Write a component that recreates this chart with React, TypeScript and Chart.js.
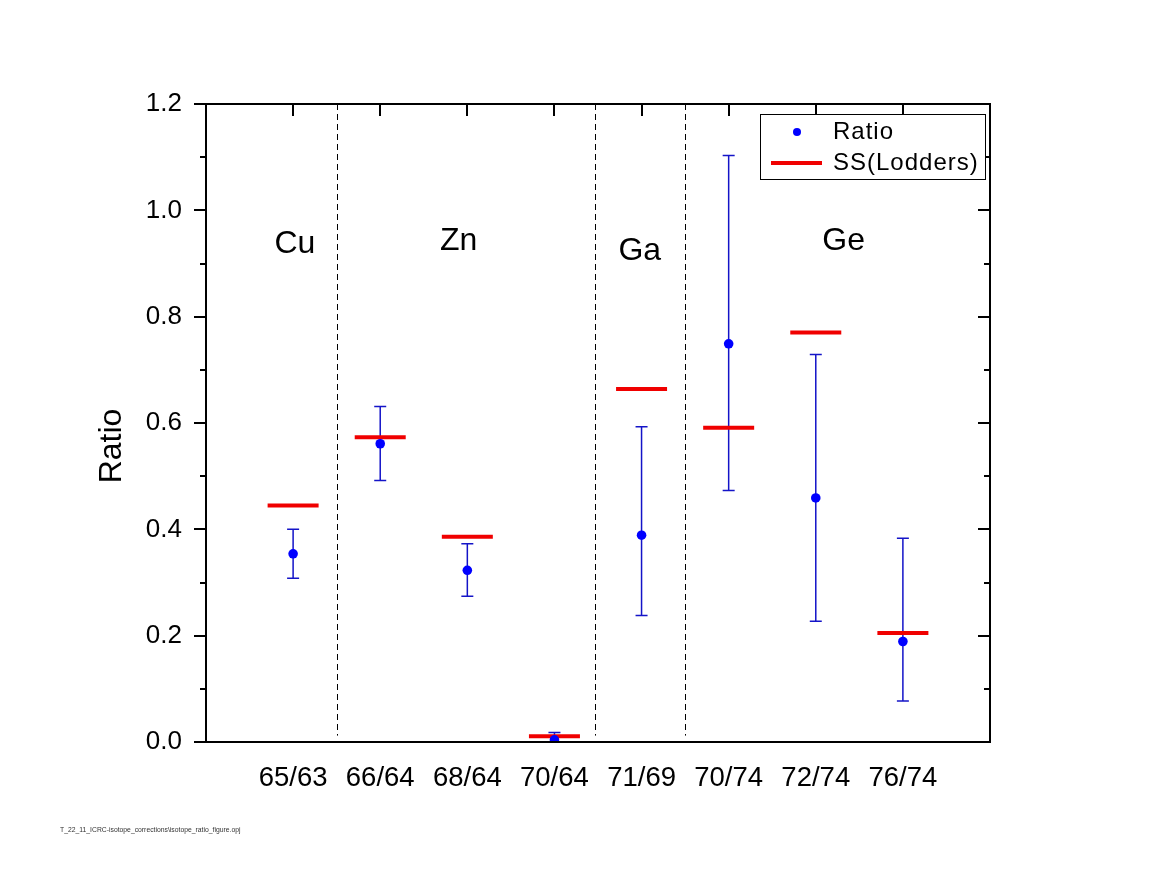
import { useEffect, useRef } from "react";
import { Chart, registerables } from "chart.js";

Chart.register(...registerables);

const FONT = "Arial, 'Liberation Sans', sans-serif";

// isotope pairs along the x axis (positions 1..8)
const categories = ["65/63", "66/64", "68/64", "70/64", "71/69", "70/74", "72/74", "76/74"];
// measured ratio with lower / upper error limits
const ratioValues = [0.354, 0.561, 0.323, 0.004, 0.389, 0.749, 0.459, 0.189];
const ratioLow = [0.308, 0.492, 0.274, 0.0, 0.238, 0.473, 0.227, 0.077];
const ratioHigh = [0.4, 0.631, 0.373, 0.018, 0.593, 1.103, 0.729, 0.383];
// solar system values (Lodders)
const lodders = [0.445, 0.573, 0.386, 0.011, 0.664, 0.591, 0.77, 0.205];
// element groups and the dashed lines between them
const groupNames = ["Cu", "Zn", "Ga", "Ge"];
const separators = [1.5, 4.47, 5.5];

// where the element names sit, in data units
const groupLabelX = [1.02, 2.9, 4.98, 7.32];
const groupLabelY = [0.936, 0.942, 0.923, 0.942];

const BLUE = "#0000ff";
const BAR_BLUE = "#1414c8";
const RED = "#f00000";

const decorPlugin = {
  id: "decor",
  beforeDatasetsDraw(chart: any) {
    const { ctx, chartArea, scales } = chart;
    const x = scales.x;
    const y = scales.y;
    ctx.save();
    // dashed separators
    ctx.strokeStyle = "#000";
    ctx.lineWidth = 1;
    ctx.setLineDash([6, 4]);
    separators.forEach((s) => {
      const px = Math.round(x.getPixelForValue(s)) + 0.5;
      ctx.beginPath();
      ctx.moveTo(px, chartArea.top);
      ctx.lineTo(px, y.getPixelForValue(0.012));
      ctx.stroke();
    });
    ctx.setLineDash([]);
    // error bars
    ctx.strokeStyle = BAR_BLUE;
    ctx.lineWidth = 1.5;
    categories.forEach((_, i) => {
      const px = x.getPixelForValue(i + 1);
      const top = y.getPixelForValue(ratioHigh[i]);
      const bot = Math.min(y.getPixelForValue(ratioLow[i]), chartArea.bottom);
      ctx.beginPath();
      ctx.moveTo(px, top);
      ctx.lineTo(px, bot);
      ctx.moveTo(px - 6, top);
      ctx.lineTo(px + 6, top);
      if (ratioLow[i] > 0) {
        ctx.moveTo(px - 6, bot);
        ctx.lineTo(px + 6, bot);
      }
      ctx.stroke();
    });
    ctx.restore();
  },
  afterDraw(chart: any) {
    const { ctx, chartArea, scales } = chart;
    const x = scales.x;
    const y = scales.y;
    const { left, right, top, bottom } = chartArea;
    ctx.save();
    // frame
    ctx.strokeStyle = "#000";
    ctx.lineWidth = 2;
    ctx.strokeRect(left, top, right - left, bottom - top);
    // y ticks: outward on the left, inward on the right
    y.ticks.forEach((t: any) => {
      const major = Math.round(t.value * 10) % 2 === 0;
      const len = major ? 12 : 6;
      const py = Math.round(y.getPixelForValue(t.value));
      ctx.beginPath();
      ctx.moveTo(left - len, py);
      ctx.lineTo(left, py);
      ctx.moveTo(right, py);
      ctx.lineTo(right - len, py);
      ctx.stroke();
    });
    // top ticks inward
    categories.forEach((_, i) => {
      const px = Math.round(x.getPixelForValue(i + 1));
      ctx.beginPath();
      ctx.moveTo(px, top);
      ctx.lineTo(px, top + 12);
      ctx.stroke();
    });
    // element names
    ctx.fillStyle = "#000";
    ctx.font = `32px ${FONT}`;
    ctx.textAlign = "center";
    ctx.textBaseline = "middle";
    groupNames.forEach((g, i) => {
      ctx.fillText(g, x.getPixelForValue(groupLabelX[i]), y.getPixelForValue(groupLabelY[i]));
    });
    // y title
    ctx.save();
    ctx.translate(112, (top + bottom) / 2 + 23);
    ctx.rotate(-Math.PI / 2);
    ctx.fillText("Ratio", 0, 0);
    ctx.restore();
    // legend
    const lw = 225;
    const lh = 65;
    const lx = right - lw - 5;
    const ly = top + 10;
    ctx.fillStyle = "#fff";
    ctx.fillRect(lx, ly, lw, lh);
    ctx.lineWidth = 1;
    ctx.strokeRect(lx + 0.5, ly + 0.5, lw, lh);
    ctx.fillStyle = BLUE;
    ctx.beginPath();
    ctx.arc(lx + 37, ly + 18, 4, 0, Math.PI * 2);
    ctx.fill();
    ctx.strokeStyle = RED;
    ctx.lineWidth = 4;
    ctx.beginPath();
    ctx.moveTo(lx + 11, ly + 49);
    ctx.lineTo(lx + 62, ly + 49);
    ctx.stroke();
    ctx.fillStyle = "#000";
    ctx.font = `24px ${FONT}`;
    ctx.textAlign = "left";
    (ctx as any).letterSpacing = "1px";
    const labels = chart.data.datasets.map((d: any) => d.label);
    ctx.fillText(labels[0], lx + 73, ly + 18);
    ctx.fillText(labels[1], lx + 73, ly + 49);
    (ctx as any).letterSpacing = "0px";
    // file path footer
    ctx.font = `6.8px ${FONT}`;
    ctx.fillStyle = "#333";
    ctx.fillText("T_22_11_ICRC-isotope_corrections\\isotope_ratio_figure.opj", 60, 830);
    ctx.restore();
  },
};

function RatioChart() {
  const canvasRef = useRef<HTMLCanvasElement | null>(null);
  const chartRef = useRef<Chart | null>(null);

  useEffect(() => {
    if (!canvasRef.current) return;
    if (chartRef.current) chartRef.current.destroy();

    chartRef.current = new Chart(canvasRef.current, {
      type: "scatter",
      data: {
        datasets: [
          {
            label: "Ratio",
            data: ratioValues.map((v, i) => ({ x: i + 1, y: v })),
            backgroundColor: BLUE,
            borderColor: BLUE,
            pointRadius: 4.8,
            pointBorderWidth: 0,
          },
          {
            label: "SS(Lodders)",
            data: lodders.map((v, i) => ({ x: i + 1, y: v })),
            pointStyle: "line",
            pointRadius: 25.5,
            borderColor: RED,
            backgroundColor: RED,
            pointBorderWidth: 4,
          },
        ],
      },
      options: {
        animation: false,
        responsive: false,
        layout: { padding: { top: 104, right: 166, left: 0, bottom: 0 } },
        plugins: {
          legend: { display: false },
          tooltip: { enabled: false },
        },
        scales: {
          x: {
            type: "linear",
            min: 0,
            max: 9,
            afterFit: (s: any) => {
              s.height = 153;
            },
            grid: { display: false, drawTicks: false },
            border: { display: false },
            ticks: {
              stepSize: 1,
              autoSkip: false,
              maxRotation: 0,
              padding: 20,
              color: "#000",
              font: { family: FONT, size: 27.5 },
              callback: (v: any) => categories[Number(v) - 1] ?? "",
            },
          },
          y: {
            min: 0,
            max: 1.2,
            afterFit: (s: any) => {
              s.width = 206;
            },
            grid: { display: false, drawTicks: false },
            border: { display: false },
            ticks: {
              stepSize: 0.1,
              autoSkip: false,
              padding: 24,
              color: "#000",
              font: { family: FONT, size: 26 },
              callback: (v: any) => (Math.round(Number(v) * 10) % 2 === 0 ? Number(v).toFixed(1) : ""),
            },
          },
        },
      },
      plugins: [decorPlugin],
    });

    return () => {
      if (chartRef.current) {
        chartRef.current.destroy();
        chartRef.current = null;
      }
    };
  }, []);

  return <canvas ref={canvasRef} width={1156} height={895} style={{ display: "block" }} />;
}

export default function App() {
  return (
    <div style={{ position: "fixed", left: 0, top: 0, width: 1156, height: 895, background: "#fff" }}>
      <RatioChart />
    </div>
  );
}
